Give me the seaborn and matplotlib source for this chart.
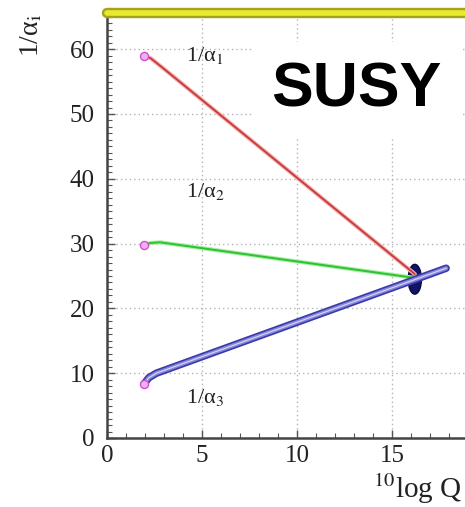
import matplotlib
matplotlib.use("Agg")
import matplotlib.pyplot as plt
from matplotlib.patches import Ellipse
from matplotlib.ticker import MultipleLocator
import seaborn as sns
import pandas as pd

# ---- data ----
x_a1 = [1.96, 2.3, 2.9, 16.2]
y_a1 = [59.0, 58.6, 57.2, 25.3]
x_a2 = [1.96, 2.3, 2.8, 16.2]
y_a2 = [29.8, 30.1, 30.2, 24.7]
x_a3 = [1.96, 2.2, 2.6, 17.85]
y_a3 = [8.4, 9.3, 10.0, 26.2]
gut_x, gut_y = 16.2, 24.5          # unification point
gut_w, gut_h = 0.7, 4.6            # ellipse size (x units, y units)
x_ticks = [0, 5, 10, 15]
y_ticks = [0, 10, 20, 30, 40, 50, 60]
labels = ["1/α$_1$", "1/α$_2$", "1/α$_3$"]
label_pos = [(4.15, 59.1), (4.15, 38.0), (4.15, 6.3)]

sns.set_theme(style="white")
plt.rcParams["font.family"] = ["Liberation Serif", "DejaVu Serif"]
plt.rcParams["mathtext.fontset"] = "stix"

fig = plt.figure(figsize=(4.65, 5.07), dpi=100)
ax = fig.add_axes([107 / 465, 69 / 507, 358 / 465, 423 / 507])

ax.set_xlim(0, 358 / 19)
ax.set_ylim(0, 423 / 6.48)

ax.grid(True, which="major", color="#b4b4b4", linestyle=(0, (1, 2.2)), linewidth=1.0)
ax.set_axisbelow(True)

d1 = pd.DataFrame({"x": x_a1, "y": y_a1})
d2 = pd.DataFrame({"x": x_a2, "y": y_a2})
d3 = pd.DataFrame({"x": x_a3, "y": y_a3})

# ellipse at unification
ax.add_patch(Ellipse((gut_x, gut_y), gut_w, gut_h, facecolor="#141466",
                     edgecolor="#0a0a40", linewidth=1.0, zorder=3))

# alpha1 red
sns.lineplot(data=d1, x="x", y="y", sort=False, estimator=None, ax=ax,
             color="#f2b0b0", linewidth=3.0, zorder=4)
sns.lineplot(data=d1, x="x", y="y", sort=False, estimator=None, ax=ax,
             color="#c83838", linewidth=1.3, zorder=4)
# alpha2 green
sns.lineplot(data=d2, x="x", y="y", sort=False, estimator=None, ax=ax,
             color="#a8eea8", linewidth=3.0, zorder=4)
sns.lineplot(data=d2, x="x", y="y", sort=False, estimator=None, ax=ax,
             color="#30c030", linewidth=1.4, zorder=4)
# alpha3 blue band
sns.lineplot(data=d3, x="x", y="y", sort=False, estimator=None, ax=ax,
             color="#3a3aa8", linewidth=5.4, zorder=5)
sns.lineplot(data=d3, x="x", y="y", sort=False, estimator=None, ax=ax,
             color="#8686dc", linewidth=3.0, zorder=5)
sns.lineplot(data=d3, x="x", y="y", sort=False, estimator=None, ax=ax,
             color="#d8d8f4", linewidth=0.8, zorder=5)

# start markers
sx = [x_a1[0], x_a2[0], x_a3[0]]
sy = [y_a1[0], y_a2[0], y_a3[0]]
sns.scatterplot(x=sx, y=sy, ax=ax, s=34, color="#f0b0f0", edgecolor="#d050d0",
                linewidth=1.0, zorder=6)

for txt, (lx, ly) in zip(labels, label_pos):
    ax.text(lx, ly, txt, fontsize=16, color="#222222", ha="left", va="center", zorder=7)

# ticks and spines
ax.set_xticks(x_ticks)
ax.set_yticks(y_ticks)
ax.xaxis.set_minor_locator(MultipleLocator(1))
ax.yaxis.set_minor_locator(MultipleLocator(1))
ax.tick_params(which="both", direction="in", bottom=True, left=True, top=False, right=False,
               color="#555555", labelsize=18, labelcolor="#222222")
ax.tick_params(which="major", length=6, width=1.0)
ax.tick_params(which="minor", length=3.5, width=0.8)
ax.tick_params(axis="x", pad=5)
ax.tick_params(axis="y", pad=9)
for s in ["top", "right"]:
    ax.spines[s].set_visible(False)
for s in ["left", "bottom"]:
    ax.spines[s].set_color("#444444")
    ax.spines[s].set_linewidth(1.8)
ax.set_xlabel("")
ax.set_ylabel("")

# yellow top frame bar
ax.plot([0, 1], [1.004, 1.004], transform=ax.transAxes, color="#a4a41c", linewidth=7.5,
        solid_capstyle="round", clip_on=False, zorder=8)
ax.plot([0, 1], [1.004, 1.004], transform=ax.transAxes, color="#eaea2c", linewidth=4.0,
        solid_capstyle="round", clip_on=False, zorder=8)

# SUSY label with white box
fig.text(356 / 465, 1 - 90 / 507, "SUSY", family="Liberation Sans", fontweight="bold",
         fontsize=45, color="black", ha="center", va="center",
         bbox=dict(boxstyle="square,pad=0.3", facecolor="white", edgecolor="none"))

# axis titles
fig.text(32 / 465, 1 - 35 / 507, "1/α$_\\mathrm{i}$", rotation=90, fontsize=20,
         color="#222222", ha="center", va="center")
fig.text(373 / 465, 1 - 498 / 507, r"$^{10}$log Q", fontsize=21,
         color="#222222", ha="left", va="baseline")

fig.savefig("out.png", dpi=100)
